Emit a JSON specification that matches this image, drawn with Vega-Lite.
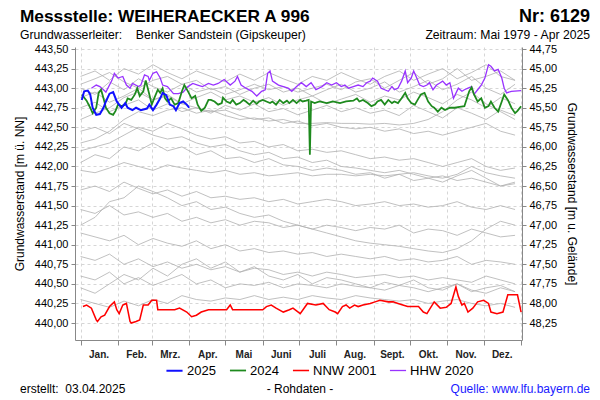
{
  "$schema": "https://vega.github.io/schema/vega-lite/v6.json",
  "autosize": "none",
  "width": 447,
  "height": 293,
  "padding": {"left": 75, "top": 47, "right": 78, "bottom": 60},
  "background": "white",
  "config": {
    "font": "Liberation Sans",
    "view": {"stroke": null}
  },
  "datasets": {
    "grey": [
      {"s":"g1","d":0,"v":443.15},{"s":"g1","d":12,"v":443.22},{"s":"g1","d":24,"v":443.1},{"s":"g1","d":36,"v":443.25},{"s":"g1","d":48,"v":443.18},{"s":"g1","d":60,"v":443.3},{"s":"g1","d":72,"v":443.2},{"s":"g1","d":84,"v":443.12},{"s":"g1","d":96,"v":443.22},{"s":"g1","d":108,"v":443.15},{"s":"g1","d":120,"v":443.08},{"s":"g1","d":132,"v":443.18},{"s":"g1","d":144,"v":443.1},{"s":"g1","d":156,"v":443.2},{"s":"g1","d":168,"v":443.12},{"s":"g1","d":180,"v":443.05},{"s":"g1","d":192,"v":443.15},{"s":"g1","d":204,"v":443.1},{"s":"g1","d":216,"v":443.2},{"s":"g1","d":228,"v":443.12},{"s":"g1","d":240,"v":443.05},{"s":"g1","d":252,"v":443.15},{"s":"g1","d":264,"v":443.22},{"s":"g1","d":276,"v":443.1},{"s":"g1","d":288,"v":443.18},{"s":"g1","d":300,"v":443.25},{"s":"g1","d":312,"v":443.12},{"s":"g1","d":324,"v":443.2},{"s":"g1","d":336,"v":443.3},{"s":"g1","d":348,"v":443.15},{"s":"g1","d":360,"v":443.1},
      {"s":"g2","d":0,"v":443.0},{"s":"g2","d":12,"v":442.92},{"s":"g2","d":24,"v":443.08},{"s":"g2","d":36,"v":442.98},{"s":"g2","d":48,"v":443.12},{"s":"g2","d":60,"v":443.02},{"s":"g2","d":72,"v":442.95},{"s":"g2","d":84,"v":443.05},{"s":"g2","d":96,"v":443.1},{"s":"g2","d":108,"v":442.98},{"s":"g2","d":120,"v":443.02},{"s":"g2","d":132,"v":442.92},{"s":"g2","d":144,"v":443.0},{"s":"g2","d":156,"v":443.05},{"s":"g2","d":168,"v":442.95},{"s":"g2","d":180,"v":443.0},{"s":"g2","d":192,"v":442.9},{"s":"g2","d":204,"v":442.98},{"s":"g2","d":216,"v":443.05},{"s":"g2","d":228,"v":442.95},{"s":"g2","d":240,"v":443.0},{"s":"g2","d":252,"v":443.08},{"s":"g2","d":264,"v":442.95},{"s":"g2","d":276,"v":443.02},{"s":"g2","d":288,"v":443.1},{"s":"g2","d":300,"v":442.98},{"s":"g2","d":312,"v":443.05},{"s":"g2","d":324,"v":443.15},{"s":"g2","d":336,"v":443.0},{"s":"g2","d":348,"v":442.92},{"s":"g2","d":360,"v":443.05},
      {"s":"g3","d":0,"v":442.88},{"s":"g3","d":12,"v":442.95},{"s":"g3","d":24,"v":442.82},{"s":"g3","d":36,"v":442.9},{"s":"g3","d":48,"v":443.0},{"s":"g3","d":60,"v":442.85},{"s":"g3","d":72,"v":442.92},{"s":"g3","d":84,"v":442.8},{"s":"g3","d":96,"v":442.88},{"s":"g3","d":108,"v":442.95},{"s":"g3","d":120,"v":442.85},{"s":"g3","d":132,"v":442.9},{"s":"g3","d":144,"v":442.82},{"s":"g3","d":156,"v":442.88},{"s":"g3","d":168,"v":442.78},{"s":"g3","d":180,"v":442.85},{"s":"g3","d":192,"v":442.9},{"s":"g3","d":204,"v":442.8},{"s":"g3","d":216,"v":442.86},{"s":"g3","d":228,"v":442.92},{"s":"g3","d":240,"v":442.82},{"s":"g3","d":252,"v":442.9},{"s":"g3","d":264,"v":442.85},{"s":"g3","d":276,"v":442.95},{"s":"g3","d":288,"v":442.88},{"s":"g3","d":300,"v":442.8},{"s":"g3","d":312,"v":442.92},{"s":"g3","d":324,"v":442.85},{"s":"g3","d":336,"v":442.75},{"s":"g3","d":348,"v":442.88},{"s":"g3","d":360,"v":442.8},
      {"s":"g4","d":0,"v":442.75},{"s":"g4","d":12,"v":442.82},{"s":"g4","d":24,"v":442.7},{"s":"g4","d":36,"v":442.78},{"s":"g4","d":48,"v":442.85},{"s":"g4","d":60,"v":442.72},{"s":"g4","d":72,"v":442.8},{"s":"g4","d":84,"v":442.7},{"s":"g4","d":96,"v":442.75},{"s":"g4","d":108,"v":442.68},{"s":"g4","d":120,"v":442.78},{"s":"g4","d":132,"v":442.72},{"s":"g4","d":144,"v":442.8},{"s":"g4","d":156,"v":442.7},{"s":"g4","d":168,"v":442.74},{"s":"g4","d":180,"v":442.66},{"s":"g4","d":192,"v":442.72},{"s":"g4","d":204,"v":442.78},{"s":"g4","d":216,"v":442.7},{"s":"g4","d":228,"v":442.75},{"s":"g4","d":240,"v":442.68},{"s":"g4","d":252,"v":442.72},{"s":"g4","d":264,"v":442.65},{"s":"g4","d":276,"v":442.78},{"s":"g4","d":288,"v":442.7},{"s":"g4","d":300,"v":442.62},{"s":"g4","d":312,"v":442.75},{"s":"g4","d":324,"v":442.68},{"s":"g4","d":336,"v":442.6},{"s":"g4","d":348,"v":442.72},{"s":"g4","d":360,"v":442.65},
      {"s":"g5","d":0,"v":442.6},{"s":"g5","d":12,"v":442.68},{"s":"g5","d":24,"v":442.75},{"s":"g5","d":36,"v":442.88},{"s":"g5","d":48,"v":442.95},{"s":"g5","d":60,"v":442.85},{"s":"g5","d":72,"v":442.9},{"s":"g5","d":84,"v":442.8},{"s":"g5","d":96,"v":442.75},{"s":"g5","d":108,"v":442.7},{"s":"g5","d":120,"v":442.72},{"s":"g5","d":132,"v":442.65},{"s":"g5","d":144,"v":442.6},{"s":"g5","d":156,"v":442.62},{"s":"g5","d":168,"v":442.55},{"s":"g5","d":180,"v":442.58},{"s":"g5","d":192,"v":442.52},{"s":"g5","d":204,"v":442.55},{"s":"g5","d":216,"v":442.5},{"s":"g5","d":228,"v":442.48},{"s":"g5","d":240,"v":442.5},{"s":"g5","d":252,"v":442.45},{"s":"g5","d":264,"v":442.48},{"s":"g5","d":276,"v":442.42},{"s":"g5","d":288,"v":442.45},{"s":"g5","d":300,"v":442.4},{"s":"g5","d":312,"v":442.45},{"s":"g5","d":324,"v":442.5},{"s":"g5","d":336,"v":442.55},{"s":"g5","d":348,"v":442.45},{"s":"g5","d":360,"v":442.4},
      {"s":"g6","d":0,"v":442.45},{"s":"g6","d":12,"v":442.5},{"s":"g6","d":24,"v":442.42},{"s":"g6","d":36,"v":442.55},{"s":"g6","d":48,"v":442.48},{"s":"g6","d":60,"v":442.4},{"s":"g6","d":72,"v":442.35},{"s":"g6","d":84,"v":442.38},{"s":"g6","d":96,"v":442.3},{"s":"g6","d":108,"v":442.25},{"s":"g6","d":120,"v":442.28},{"s":"g6","d":132,"v":442.2},{"s":"g6","d":144,"v":442.15},{"s":"g6","d":156,"v":442.18},{"s":"g6","d":168,"v":442.1},{"s":"g6","d":180,"v":442.12},{"s":"g6","d":192,"v":442.05},{"s":"g6","d":204,"v":442.08},{"s":"g6","d":216,"v":442.0},{"s":"g6","d":228,"v":441.98},{"s":"g6","d":240,"v":441.95},{"s":"g6","d":252,"v":441.92},{"s":"g6","d":264,"v":441.95},{"s":"g6","d":276,"v":441.9},{"s":"g6","d":288,"v":441.85},{"s":"g6","d":300,"v":441.88},{"s":"g6","d":312,"v":441.82},{"s":"g6","d":324,"v":441.85},{"s":"g6","d":336,"v":441.8},{"s":"g6","d":348,"v":441.75},{"s":"g6","d":360,"v":441.78},
      {"s":"g7","d":0,"v":442.2},{"s":"g7","d":12,"v":442.25},{"s":"g7","d":24,"v":442.3},{"s":"g7","d":36,"v":442.4},{"s":"g7","d":48,"v":442.5},{"s":"g7","d":60,"v":442.45},{"s":"g7","d":72,"v":442.55},{"s":"g7","d":84,"v":442.48},{"s":"g7","d":96,"v":442.4},{"s":"g7","d":108,"v":442.35},{"s":"g7","d":120,"v":442.38},{"s":"g7","d":132,"v":442.3},{"s":"g7","d":144,"v":442.32},{"s":"g7","d":156,"v":442.25},{"s":"g7","d":168,"v":442.28},{"s":"g7","d":180,"v":442.2},{"s":"g7","d":192,"v":442.22},{"s":"g7","d":204,"v":442.18},{"s":"g7","d":216,"v":442.2},{"s":"g7","d":228,"v":442.15},{"s":"g7","d":240,"v":442.1},{"s":"g7","d":252,"v":442.12},{"s":"g7","d":264,"v":442.08},{"s":"g7","d":276,"v":442.1},{"s":"g7","d":288,"v":442.05},{"s":"g7","d":300,"v":442.0},{"s":"g7","d":312,"v":442.05},{"s":"g7","d":324,"v":442.1},{"s":"g7","d":336,"v":442.0},{"s":"g7","d":348,"v":441.95},{"s":"g7","d":360,"v":441.98},
      {"s":"g8","d":0,"v":441.95},{"s":"g8","d":12,"v":441.92},{"s":"g8","d":24,"v":441.98},{"s":"g8","d":36,"v":442.05},{"s":"g8","d":48,"v":442.0},{"s":"g8","d":60,"v":441.95},{"s":"g8","d":72,"v":442.02},{"s":"g8","d":84,"v":441.98},{"s":"g8","d":96,"v":441.95},{"s":"g8","d":108,"v":441.92},{"s":"g8","d":120,"v":441.95},{"s":"g8","d":132,"v":441.9},{"s":"g8","d":144,"v":441.92},{"s":"g8","d":156,"v":441.88},{"s":"g8","d":168,"v":441.9},{"s":"g8","d":180,"v":441.92},{"s":"g8","d":192,"v":441.88},{"s":"g8","d":204,"v":441.9},{"s":"g8","d":216,"v":441.9},{"s":"g8","d":228,"v":441.88},{"s":"g8","d":240,"v":441.9},{"s":"g8","d":252,"v":441.88},{"s":"g8","d":264,"v":441.9},{"s":"g8","d":276,"v":441.92},{"s":"g8","d":288,"v":441.88},{"s":"g8","d":300,"v":441.85},{"s":"g8","d":312,"v":441.9},{"s":"g8","d":324,"v":442.0},{"s":"g8","d":336,"v":441.92},{"s":"g8","d":348,"v":441.88},{"s":"g8","d":360,"v":441.85},
      {"s":"g9","d":0,"v":441.7},{"s":"g9","d":12,"v":441.75},{"s":"g9","d":24,"v":441.68},{"s":"g9","d":36,"v":441.8},{"s":"g9","d":48,"v":441.72},{"s":"g9","d":60,"v":441.65},{"s":"g9","d":72,"v":441.7},{"s":"g9","d":84,"v":441.62},{"s":"g9","d":96,"v":441.68},{"s":"g9","d":108,"v":441.6},{"s":"g9","d":120,"v":441.62},{"s":"g9","d":132,"v":441.58},{"s":"g9","d":144,"v":441.6},{"s":"g9","d":156,"v":441.55},{"s":"g9","d":168,"v":441.58},{"s":"g9","d":180,"v":441.52},{"s":"g9","d":192,"v":441.55},{"s":"g9","d":204,"v":441.58},{"s":"g9","d":216,"v":441.55},{"s":"g9","d":228,"v":441.5},{"s":"g9","d":240,"v":441.52},{"s":"g9","d":252,"v":441.55},{"s":"g9","d":264,"v":441.5},{"s":"g9","d":276,"v":441.52},{"s":"g9","d":288,"v":441.48},{"s":"g9","d":300,"v":441.5},{"s":"g9","d":312,"v":441.55},{"s":"g9","d":324,"v":441.48},{"s":"g9","d":336,"v":441.45},{"s":"g9","d":348,"v":441.5},{"s":"g9","d":360,"v":441.45},
      {"s":"g10","d":0,"v":441.45},{"s":"g10","d":12,"v":441.4},{"s":"g10","d":24,"v":441.5},{"s":"g10","d":36,"v":441.38},{"s":"g10","d":48,"v":441.42},{"s":"g10","d":60,"v":441.35},{"s":"g10","d":72,"v":441.4},{"s":"g10","d":84,"v":441.3},{"s":"g10","d":96,"v":441.35},{"s":"g10","d":108,"v":441.28},{"s":"g10","d":120,"v":441.32},{"s":"g10","d":132,"v":441.25},{"s":"g10","d":144,"v":441.3},{"s":"g10","d":156,"v":441.28},{"s":"g10","d":168,"v":441.22},{"s":"g10","d":180,"v":441.25},{"s":"g10","d":192,"v":441.2},{"s":"g10","d":204,"v":441.25},{"s":"g10","d":216,"v":441.22},{"s":"g10","d":228,"v":441.18},{"s":"g10","d":240,"v":441.22},{"s":"g10","d":252,"v":441.2},{"s":"g10","d":264,"v":441.25},{"s":"g10","d":276,"v":441.15},{"s":"g10","d":288,"v":441.2},{"s":"g10","d":300,"v":441.18},{"s":"g10","d":312,"v":441.12},{"s":"g10","d":324,"v":441.2},{"s":"g10","d":336,"v":441.15},{"s":"g10","d":348,"v":441.1},{"s":"g10","d":360,"v":441.12},
      {"s":"g11","d":0,"v":441.15},{"s":"g11","d":12,"v":441.1},{"s":"g11","d":24,"v":441.05},{"s":"g11","d":36,"v":441.12},{"s":"g11","d":48,"v":441.0},{"s":"g11","d":60,"v":441.08},{"s":"g11","d":72,"v":441.02},{"s":"g11","d":84,"v":440.98},{"s":"g11","d":96,"v":441.05},{"s":"g11","d":108,"v":440.95},{"s":"g11","d":120,"v":441.0},{"s":"g11","d":132,"v":440.92},{"s":"g11","d":144,"v":440.95},{"s":"g11","d":156,"v":440.9},{"s":"g11","d":168,"v":440.92},{"s":"g11","d":180,"v":440.88},{"s":"g11","d":192,"v":440.9},{"s":"g11","d":204,"v":440.85},{"s":"g11","d":216,"v":440.88},{"s":"g11","d":228,"v":440.85},{"s":"g11","d":240,"v":440.82},{"s":"g11","d":252,"v":440.85},{"s":"g11","d":264,"v":440.8},{"s":"g11","d":276,"v":440.82},{"s":"g11","d":288,"v":440.78},{"s":"g11","d":300,"v":440.8},{"s":"g11","d":312,"v":440.85},{"s":"g11","d":324,"v":440.75},{"s":"g11","d":336,"v":440.8},{"s":"g11","d":348,"v":440.78},{"s":"g11","d":360,"v":440.75},
      {"s":"g12","d":0,"v":440.85},{"s":"g12","d":12,"v":440.8},{"s":"g12","d":24,"v":440.88},{"s":"g12","d":36,"v":440.75},{"s":"g12","d":48,"v":440.82},{"s":"g12","d":60,"v":440.72},{"s":"g12","d":72,"v":440.78},{"s":"g12","d":84,"v":440.7},{"s":"g12","d":96,"v":440.75},{"s":"g12","d":108,"v":440.68},{"s":"g12","d":120,"v":440.72},{"s":"g12","d":132,"v":440.65},{"s":"g12","d":144,"v":440.7},{"s":"g12","d":156,"v":440.68},{"s":"g12","d":168,"v":440.62},{"s":"g12","d":180,"v":440.65},{"s":"g12","d":192,"v":440.6},{"s":"g12","d":204,"v":440.65},{"s":"g12","d":216,"v":440.62},{"s":"g12","d":228,"v":440.58},{"s":"g12","d":240,"v":440.6},{"s":"g12","d":252,"v":440.62},{"s":"g12","d":264,"v":440.58},{"s":"g12","d":276,"v":440.6},{"s":"g12","d":288,"v":440.55},{"s":"g12","d":300,"v":440.58},{"s":"g12","d":312,"v":440.55},{"s":"g12","d":324,"v":440.52},{"s":"g12","d":336,"v":440.6},{"s":"g12","d":348,"v":440.55},{"s":"g12","d":360,"v":440.5},
      {"s":"g13","d":0,"v":440.6},{"s":"g13","d":12,"v":440.55},{"s":"g13","d":24,"v":440.65},{"s":"g13","d":36,"v":440.5},{"s":"g13","d":48,"v":440.58},{"s":"g13","d":60,"v":440.48},{"s":"g13","d":72,"v":440.55},{"s":"g13","d":84,"v":440.62},{"s":"g13","d":96,"v":440.5},{"s":"g13","d":108,"v":440.55},{"s":"g13","d":120,"v":440.45},{"s":"g13","d":132,"v":440.5},{"s":"g13","d":144,"v":440.48},{"s":"g13","d":156,"v":440.52},{"s":"g13","d":168,"v":440.45},{"s":"g13","d":180,"v":440.5},{"s":"g13","d":192,"v":440.48},{"s":"g13","d":204,"v":440.45},{"s":"g13","d":216,"v":440.5},{"s":"g13","d":228,"v":440.47},{"s":"g13","d":240,"v":440.45},{"s":"g13","d":252,"v":440.42},{"s":"g13","d":264,"v":440.48},{"s":"g13","d":276,"v":440.45},{"s":"g13","d":288,"v":440.4},{"s":"g13","d":300,"v":440.45},{"s":"g13","d":312,"v":440.5},{"s":"g13","d":324,"v":440.42},{"s":"g13","d":336,"v":440.38},{"s":"g13","d":348,"v":440.45},{"s":"g13","d":360,"v":440.4},
      {"s":"g14","d":0,"v":440.3},{"s":"g14","d":12,"v":440.25},{"s":"g14","d":24,"v":440.2},{"s":"g14","d":36,"v":440.28},{"s":"g14","d":48,"v":440.22},{"s":"g14","d":60,"v":440.3},{"s":"g14","d":72,"v":440.25},{"s":"g14","d":84,"v":440.35},{"s":"g14","d":96,"v":440.3},{"s":"g14","d":108,"v":440.28},{"s":"g14","d":120,"v":440.32},{"s":"g14","d":132,"v":440.3},{"s":"g14","d":144,"v":440.35},{"s":"g14","d":156,"v":440.3},{"s":"g14","d":168,"v":440.33},{"s":"g14","d":180,"v":440.3},{"s":"g14","d":192,"v":440.35},{"s":"g14","d":204,"v":440.32},{"s":"g14","d":216,"v":440.3},{"s":"g14","d":228,"v":440.35},{"s":"g14","d":240,"v":440.32},{"s":"g14","d":252,"v":440.3},{"s":"g14","d":264,"v":440.28},{"s":"g14","d":276,"v":440.3},{"s":"g14","d":288,"v":440.25},{"s":"g14","d":300,"v":440.28},{"s":"g14","d":312,"v":440.3},{"s":"g14","d":324,"v":440.25},{"s":"g14","d":336,"v":440.22},{"s":"g14","d":348,"v":440.25},{"s":"g14","d":360,"v":440.2},
      {"s":"g15","d":0,"v":440.45},{"s":"g15","d":12,"v":440.38},{"s":"g15","d":24,"v":440.5},{"s":"g15","d":36,"v":440.62},{"s":"g15","d":48,"v":440.55},{"s":"g15","d":60,"v":440.7},{"s":"g15","d":72,"v":440.6},{"s":"g15","d":84,"v":440.75},{"s":"g15","d":96,"v":440.82},{"s":"g15","d":108,"v":440.7},{"s":"g15","d":120,"v":440.78},{"s":"g15","d":132,"v":440.65},{"s":"g15","d":144,"v":440.72},{"s":"g15","d":156,"v":440.6},{"s":"g15","d":168,"v":440.55},{"s":"g15","d":180,"v":440.62},{"s":"g15","d":192,"v":440.5},{"s":"g15","d":204,"v":440.58},{"s":"g15","d":216,"v":440.55},{"s":"g15","d":228,"v":440.5},{"s":"g15","d":240,"v":440.45},{"s":"g15","d":252,"v":440.52},{"s":"g15","d":264,"v":440.48},{"s":"g15","d":276,"v":440.55},{"s":"g15","d":288,"v":440.45},{"s":"g15","d":300,"v":440.42},{"s":"g15","d":312,"v":440.5},{"s":"g15","d":324,"v":440.4},{"s":"g15","d":336,"v":440.45},{"s":"g15","d":348,"v":440.48},{"s":"g15","d":360,"v":440.4},
      {"s":"g16","d":0,"v":442.3},{"s":"g16","d":12,"v":442.35},{"s":"g16","d":24,"v":442.45},{"s":"g16","d":36,"v":442.6},{"s":"g16","d":48,"v":442.7},{"s":"g16","d":60,"v":442.65},{"s":"g16","d":72,"v":442.72},{"s":"g16","d":84,"v":442.75},{"s":"g16","d":96,"v":442.68},{"s":"g16","d":108,"v":442.72},{"s":"g16","d":120,"v":442.65},{"s":"g16","d":132,"v":442.6},{"s":"g16","d":144,"v":442.62},{"s":"g16","d":156,"v":442.58},{"s":"g16","d":168,"v":442.6},{"s":"g16","d":180,"v":442.55},{"s":"g16","d":192,"v":442.55},{"s":"g16","d":204,"v":442.56},{"s":"g16","d":216,"v":442.55},{"s":"g16","d":228,"v":442.55},{"s":"g16","d":240,"v":442.54},{"s":"g16","d":252,"v":442.55},{"s":"g16","d":264,"v":442.53},{"s":"g16","d":276,"v":442.55},{"s":"g16","d":288,"v":442.6},{"s":"g16","d":300,"v":442.7},{"s":"g16","d":312,"v":442.85},{"s":"g16","d":324,"v":442.95},{"s":"g16","d":336,"v":442.8},{"s":"g16","d":348,"v":442.7},{"s":"g16","d":360,"v":442.6},
      {"s":"g17","d":0,"v":443.05},{"s":"g17","d":12,"v":443.12},{"s":"g17","d":24,"v":443.2},{"s":"g17","d":36,"v":443.08},{"s":"g17","d":48,"v":443.0},{"s":"g17","d":60,"v":443.1},{"s":"g17","d":72,"v":443.15},{"s":"g17","d":84,"v":443.05},{"s":"g17","d":96,"v":442.95},{"s":"g17","d":108,"v":443.0},{"s":"g17","d":120,"v":442.92},{"s":"g17","d":132,"v":442.98},{"s":"g17","d":144,"v":443.05},{"s":"g17","d":156,"v":442.98},{"s":"g17","d":168,"v":443.02},{"s":"g17","d":180,"v":442.95},{"s":"g17","d":192,"v":443.0},{"s":"g17","d":204,"v":443.05},{"s":"g17","d":216,"v":442.98},{"s":"g17","d":228,"v":443.08},{"s":"g17","d":240,"v":443.12},{"s":"g17","d":252,"v":443.0},{"s":"g17","d":264,"v":443.1},{"s":"g17","d":276,"v":443.2},{"s":"g17","d":288,"v":443.05},{"s":"g17","d":300,"v":443.12},{"s":"g17","d":312,"v":443.25},{"s":"g17","d":324,"v":443.1},{"s":"g17","d":336,"v":443.15},{"s":"g17","d":348,"v":443.22},{"s":"g17","d":360,"v":443.1},
      {"s":"g18","d":0,"v":441.25},{"s":"g18","d":12,"v":441.35},{"s":"g18","d":24,"v":441.55},{"s":"g18","d":36,"v":441.6},{"s":"g18","d":48,"v":441.75},{"s":"g18","d":60,"v":441.68},{"s":"g18","d":72,"v":441.6},{"s":"g18","d":84,"v":441.5},{"s":"g18","d":96,"v":441.55},{"s":"g18","d":108,"v":441.45},{"s":"g18","d":120,"v":441.48},{"s":"g18","d":132,"v":441.4},{"s":"g18","d":144,"v":441.35},{"s":"g18","d":156,"v":441.38},{"s":"g18","d":168,"v":441.3},{"s":"g18","d":180,"v":441.25},{"s":"g18","d":192,"v":441.2},{"s":"g18","d":204,"v":441.15},{"s":"g18","d":216,"v":441.1},{"s":"g18","d":228,"v":441.05},{"s":"g18","d":240,"v":441.02},{"s":"g18","d":252,"v":441.0},{"s":"g18","d":264,"v":440.98},{"s":"g18","d":276,"v":440.95},{"s":"g18","d":288,"v":440.92},{"s":"g18","d":300,"v":440.9},{"s":"g18","d":312,"v":440.95},{"s":"g18","d":324,"v":441.05},{"s":"g18","d":336,"v":441.2},{"s":"g18","d":348,"v":441.3},{"s":"g18","d":360,"v":441.25},
      {"s":"g19","d":0,"v":442.05},{"s":"g19","d":12,"v":442.15},{"s":"g19","d":24,"v":442.1},{"s":"g19","d":36,"v":442.25},{"s":"g19","d":48,"v":442.2},{"s":"g19","d":60,"v":442.3},{"s":"g19","d":72,"v":442.2},{"s":"g19","d":84,"v":442.25},{"s":"g19","d":96,"v":442.15},{"s":"g19","d":108,"v":442.2},{"s":"g19","d":120,"v":442.1},{"s":"g19","d":132,"v":442.12},{"s":"g19","d":144,"v":442.05},{"s":"g19","d":156,"v":442.1},{"s":"g19","d":168,"v":442.02},{"s":"g19","d":180,"v":442.0},{"s":"g19","d":192,"v":441.95},{"s":"g19","d":204,"v":441.98},{"s":"g19","d":216,"v":441.95},{"s":"g19","d":228,"v":441.9},{"s":"g19","d":240,"v":441.92},{"s":"g19","d":252,"v":441.85},{"s":"g19","d":264,"v":441.9},{"s":"g19","d":276,"v":441.82},{"s":"g19","d":288,"v":441.85},{"s":"g19","d":300,"v":441.8},{"s":"g19","d":312,"v":441.88},{"s":"g19","d":324,"v":441.95},{"s":"g19","d":336,"v":441.85},{"s":"g19","d":348,"v":441.75},{"s":"g19","d":360,"v":441.8}
    ],
    "col": [
      {"s":"HHW 2020","d":9,"v":443.0},{"s":"HHW 2020","d":13,"v":443.04},{"s":"HHW 2020","d":16,"v":443.02},{"s":"HHW 2020","d":19,"v":442.98},{"s":"HHW 2020","d":21,"v":442.95},{"s":"HHW 2020","d":26,"v":443.1},{"s":"HHW 2020","d":28,"v":443.19},{"s":"HHW 2020","d":31,"v":443.13},{"s":"HHW 2020","d":35,"v":443.15},{"s":"HHW 2020","d":38,"v":443.04},{"s":"HHW 2020","d":41,"v":443.0},{"s":"HHW 2020","d":43,"v":443.06},{"s":"HHW 2020","d":48,"v":443.02},{"s":"HHW 2020","d":50,"v":443.04},{"s":"HHW 2020","d":53,"v":443.17},{"s":"HHW 2020","d":56,"v":443.15},{"s":"HHW 2020","d":57,"v":443.1},{"s":"HHW 2020","d":60,"v":443.19},{"s":"HHW 2020","d":63,"v":443.21},{"s":"HHW 2020","d":66,"v":443.13},{"s":"HHW 2020","d":68,"v":443.04},{"s":"HHW 2020","d":72,"v":443.02},{"s":"HHW 2020","d":77,"v":442.93},{"s":"HHW 2020","d":81,"v":442.93},{"s":"HHW 2020","d":85,"v":442.95},{"s":"HHW 2020","d":89,"v":443.02},{"s":"HHW 2020","d":93,"v":443.06},{"s":"HHW 2020","d":97,"v":443.04},{"s":"HHW 2020","d":101,"v":443.02},{"s":"HHW 2020","d":106,"v":443.06},{"s":"HHW 2020","d":110,"v":443.04},{"s":"HHW 2020","d":114,"v":443.06},
      {"s":"HHW 2020","d":119,"v":443.11},{"s":"HHW 2020","d":124,"v":443.04},{"s":"HHW 2020","d":128,"v":443.09},{"s":"HHW 2020","d":130,"v":443.15},{"s":"HHW 2020","d":133,"v":443.04},{"s":"HHW 2020","d":137,"v":443.0},{"s":"HHW 2020","d":142,"v":442.96},{"s":"HHW 2020","d":146,"v":442.9},{"s":"HHW 2020","d":150,"v":442.96},{"s":"HHW 2020","d":153,"v":442.98},{"s":"HHW 2020","d":155,"v":443.19},{"s":"HHW 2020","d":157,"v":443.22},{"s":"HHW 2020","d":159,"v":443.09},{"s":"HHW 2020","d":164,"v":443.04},{"s":"HHW 2020","d":168,"v":443.02},{"s":"HHW 2020","d":172,"v":443.0},{"s":"HHW 2020","d":175,"v":442.96},{"s":"HHW 2020","d":179,"v":443.02},{"s":"HHW 2020","d":183,"v":443.07},{"s":"HHW 2020","d":187,"v":443.02},{"s":"HHW 2020","d":191,"v":443.07},{"s":"HHW 2020","d":195,"v":442.98},{"s":"HHW 2020","d":200,"v":443.02},{"s":"HHW 2020","d":204,"v":443.07},{"s":"HHW 2020","d":208,"v":443.04},{"s":"HHW 2020","d":212,"v":443.07},{"s":"HHW 2020","d":216,"v":443.02},{"s":"HHW 2020","d":219,"v":443.04},{"s":"HHW 2020","d":222,"v":443.0},{"s":"HHW 2020","d":226,"v":443.02},{"s":"HHW 2020","d":230,"v":443.04},{"s":"HHW 2020","d":234,"v":443.02},{"s":"HHW 2020","d":237,"v":443.07},{"s":"HHW 2020","d":240,"v":443.09},
      {"s":"HHW 2020","d":242,"v":443.13},{"s":"HHW 2020","d":246,"v":443.09},{"s":"HHW 2020","d":249,"v":443.0},{"s":"HHW 2020","d":252,"v":442.98},{"s":"HHW 2020","d":255,"v":442.96},{"s":"HHW 2020","d":258,"v":443.02},{"s":"HHW 2020","d":260,"v":442.98},{"s":"HHW 2020","d":263,"v":443.0},{"s":"HHW 2020","d":266,"v":443.09},{"s":"HHW 2020","d":269,"v":443.22},{"s":"HHW 2020","d":271,"v":443.07},{"s":"HHW 2020","d":274,"v":443.13},{"s":"HHW 2020","d":276,"v":443.22},{"s":"HHW 2020","d":278,"v":443.15},{"s":"HHW 2020","d":281,"v":443.04},{"s":"HHW 2020","d":284,"v":443.02},{"s":"HHW 2020","d":287,"v":443.04},{"s":"HHW 2020","d":289,"v":443.07},{"s":"HHW 2020","d":292,"v":442.98},{"s":"HHW 2020","d":295,"v":443.04},{"s":"HHW 2020","d":298,"v":443.07},{"s":"HHW 2020","d":300,"v":443.09},{"s":"HHW 2020","d":303,"v":443.04},{"s":"HHW 2020","d":306,"v":443.07},{"s":"HHW 2020","d":309,"v":442.87},{"s":"HHW 2020","d":313,"v":443.0},{"s":"HHW 2020","d":316,"v":442.96},{"s":"HHW 2020","d":318,"v":442.98},{"s":"HHW 2020","d":321,"v":443.0},{"s":"HHW 2020","d":324,"v":443.02},{"s":"HHW 2020","d":326,"v":442.92},{"s":"HHW 2020","d":329,"v":442.98},{"s":"HHW 2020","d":332,"v":443.04},{"s":"HHW 2020","d":335,"v":443.13},{"s":"HHW 2020","d":338,"v":443.3},{"s":"HHW 2020","d":340,"v":443.28},{"s":"HHW 2020","d":343,"v":443.22},{"s":"HHW 2020","d":346,"v":443.24},{"s":"HHW 2020","d":349,"v":443.13},{"s":"HHW 2020","d":351,"v":443.0},{"s":"HHW 2020","d":353,"v":442.94},{"s":"HHW 2020","d":357,"v":442.96},{"s":"HHW 2020","d":365,"v":442.97},
      {"s":"NNW 2001","d":2,"v":440.21},{"s":"NNW 2001","d":5,"v":440.23},{"s":"NNW 2001","d":9,"v":440.19},{"s":"NNW 2001","d":13,"v":440.04},{"s":"NNW 2001","d":14,"v":440.02},{"s":"NNW 2001","d":17,"v":440.08},{"s":"NNW 2001","d":20,"v":440.1},{"s":"NNW 2001","d":24,"v":440.21},{"s":"NNW 2001","d":28,"v":440.27},{"s":"NNW 2001","d":30,"v":440.17},{"s":"NNW 2001","d":32,"v":440.12},{"s":"NNW 2001","d":35,"v":440.23},{"s":"NNW 2001","d":38,"v":440.25},{"s":"NNW 2001","d":41,"v":440.02},{"s":"NNW 2001","d":42,"v":440.0},{"s":"NNW 2001","d":46,"v":440.02},{"s":"NNW 2001","d":49,"v":440.04},{"s":"NNW 2001","d":52,"v":440.23},{"s":"NNW 2001","d":56,"v":440.23},{"s":"NNW 2001","d":59,"v":440.29},{"s":"NNW 2001","d":63,"v":440.29},{"s":"NNW 2001","d":64,"v":440.17},{"s":"NNW 2001","d":68,"v":440.17},{"s":"NNW 2001","d":78,"v":440.17},{"s":"NNW 2001","d":82,"v":440.19},{"s":"NNW 2001","d":88,"v":440.14},{"s":"NNW 2001","d":92,"v":440.08},{"s":"NNW 2001","d":96,"v":440.1},{"s":"NNW 2001","d":100,"v":440.14},{"s":"NNW 2001","d":106,"v":440.17},{"s":"NNW 2001","d":113,"v":440.17},{"s":"NNW 2001","d":121,"v":440.17},{"s":"NNW 2001","d":124,"v":440.23},{"s":"NNW 2001","d":126,"v":440.17},{"s":"NNW 2001","d":135,"v":440.17},{"s":"NNW 2001","d":143,"v":440.17},{"s":"NNW 2001","d":151,"v":440.17},{"s":"NNW 2001","d":154,"v":440.21},{"s":"NNW 2001","d":158,"v":440.23},{"s":"NNW 2001","d":162,"v":440.19},{"s":"NNW 2001","d":168,"v":440.14},{"s":"NNW 2001","d":173,"v":440.17},{"s":"NNW 2001","d":176,"v":440.19},{"s":"NNW 2001","d":182,"v":440.12},{"s":"NNW 2001","d":188,"v":440.25},{"s":"NNW 2001","d":195,"v":440.23},{"s":"NNW 2001","d":201,"v":440.25},{"s":"NNW 2001","d":206,"v":440.17},{"s":"NNW 2001","d":211,"v":440.14},{"s":"NNW 2001","d":213,"v":440.12},{"s":"NNW 2001","d":217,"v":440.21},{"s":"NNW 2001","d":220,"v":440.23},{"s":"NNW 2001","d":223,"v":440.19},{"s":"NNW 2001","d":227,"v":440.23},{"s":"NNW 2001","d":230,"v":440.21},{"s":"NNW 2001","d":234,"v":440.23},{"s":"NNW 2001","d":240,"v":440.25},{"s":"NNW 2001","d":244,"v":440.27},{"s":"NNW 2001","d":248,"v":440.29},{"s":"NNW 2001","d":255,"v":440.27},{"s":"NNW 2001","d":259,"v":440.27},{"s":"NNW 2001","d":263,"v":440.25},{"s":"NNW 2001","d":267,"v":440.23},{"s":"NNW 2001","d":271,"v":440.21},{"s":"NNW 2001","d":280,"v":440.21},{"s":"NNW 2001","d":284,"v":440.14},{"s":"NNW 2001","d":287,"v":440.12},{"s":"NNW 2001","d":289,"v":440.17},{"s":"NNW 2001","d":293,"v":440.27},{"s":"NNW 2001","d":298,"v":440.19},{"s":"NNW 2001","d":303,"v":440.2},{"s":"NNW 2001","d":307,"v":440.25},{"s":"NNW 2001","d":311,"v":440.46},{"s":"NNW 2001","d":313,"v":440.34},{"s":"NNW 2001","d":316,"v":440.23},{"s":"NNW 2001","d":318,"v":440.25},{"s":"NNW 2001","d":321,"v":440.14},{"s":"NNW 2001","d":325,"v":440.19},{"s":"NNW 2001","d":329,"v":440.27},{"s":"NNW 2001","d":334,"v":440.29},{"s":"NNW 2001","d":338,"v":440.25},{"s":"NNW 2001","d":340,"v":440.14},{"s":"NNW 2001","d":345,"v":440.12},{"s":"NNW 2001","d":350,"v":440.14},{"s":"NNW 2001","d":354,"v":440.36},{"s":"NNW 2001","d":362,"v":440.36},{"s":"NNW 2001","d":365,"v":440.14},
      {"s":"2024","d":1,"v":442.92},{"s":"2024","d":5,"v":442.84},{"s":"2024","d":8,"v":442.75},{"s":"2024","d":10,"v":442.68},{"s":"2024","d":13,"v":442.75},{"s":"2024","d":15,"v":442.94},{"s":"2024","d":17,"v":442.98},{"s":"2024","d":19,"v":442.87},{"s":"2024","d":21,"v":442.75},{"s":"2024","d":24,"v":442.68},{"s":"2024","d":27,"v":442.66},{"s":"2024","d":29,"v":442.71},{"s":"2024","d":31,"v":442.79},{"s":"2024","d":34,"v":442.77},{"s":"2024","d":37,"v":442.79},{"s":"2024","d":39,"v":442.87},{"s":"2024","d":42,"v":442.85},{"s":"2024","d":45,"v":442.92},{"s":"2024","d":47,"v":443.0},{"s":"2024","d":49,"v":442.9},{"s":"2024","d":52,"v":442.96},{"s":"2024","d":54,"v":443.1},{"s":"2024","d":55,"v":443.04},{"s":"2024","d":57,"v":442.92},{"s":"2024","d":59,"v":442.79},{"s":"2024","d":61,"v":442.87},{"s":"2024","d":64,"v":442.98},{"s":"2024","d":66,"v":442.94},{"s":"2024","d":68,"v":443.0},{"s":"2024","d":70,"v":442.87},{"s":"2024","d":72,"v":442.83},{"s":"2024","d":75,"v":442.87},{"s":"2024","d":78,"v":442.79},{"s":"2024","d":81,"v":442.81},{"s":"2024","d":84,"v":442.96},{"s":"2024","d":86,"v":443.04},{"s":"2024","d":89,"v":442.96},{"s":"2024","d":92,"v":442.87},{"s":"2024","d":95,"v":442.9},{"s":"2024","d":97,"v":442.79},{"s":"2024","d":100,"v":442.71},{"s":"2024","d":103,"v":442.75},{"s":"2024","d":106,"v":442.85},{"s":"2024","d":108,"v":442.85},{"s":"2024","d":111,"v":442.83},{"s":"2024","d":114,"v":442.79},{"s":"2024","d":117,"v":442.81},
      {"s":"2024","d":118,"v":442.88},{"s":"2024","d":121,"v":442.83},{"s":"2024","d":124,"v":442.81},{"s":"2024","d":126,"v":442.85},{"s":"2024","d":129,"v":442.79},{"s":"2024","d":132,"v":442.81},{"s":"2024","d":135,"v":442.85},{"s":"2024","d":137,"v":442.83},{"s":"2024","d":140,"v":442.79},{"s":"2024","d":143,"v":442.84},{"s":"2024","d":146,"v":442.8},{"s":"2024","d":148,"v":442.83},{"s":"2024","d":151,"v":442.85},{"s":"2024","d":154,"v":442.83},{"s":"2024","d":157,"v":442.81},{"s":"2024","d":159,"v":442.83},{"s":"2024","d":162,"v":442.79},{"s":"2024","d":165,"v":442.85},{"s":"2024","d":168,"v":442.81},{"s":"2024","d":171,"v":442.84},{"s":"2024","d":173,"v":442.81},{"s":"2024","d":176,"v":442.85},{"s":"2024","d":179,"v":442.81},{"s":"2024","d":182,"v":442.85},{"s":"2024","d":184,"v":442.83},{"s":"2024","d":187,"v":442.84},{"s":"2024","d":189,"v":442.85},{"s":"2024","d":190,"v":442.15},{"s":"2024","d":191,"v":442.83},{"s":"2024","d":194,"v":442.81},{"s":"2024","d":198,"v":442.83},{"s":"2024","d":204,"v":442.81},{"s":"2024","d":209,"v":442.83},{"s":"2024","d":215,"v":442.81},{"s":"2024","d":220,"v":442.83},{"s":"2024","d":226,"v":442.84},{"s":"2024","d":229,"v":442.87},{"s":"2024","d":231,"v":442.83},{"s":"2024","d":234,"v":442.85},
      {"s":"2024","d":238,"v":442.81},{"s":"2024","d":241,"v":442.77},{"s":"2024","d":244,"v":442.79},{"s":"2024","d":246,"v":442.83},{"s":"2024","d":249,"v":442.85},{"s":"2024","d":252,"v":442.79},{"s":"2024","d":255,"v":442.85},{"s":"2024","d":258,"v":442.81},{"s":"2024","d":260,"v":442.83},{"s":"2024","d":263,"v":442.81},{"s":"2024","d":266,"v":442.87},{"s":"2024","d":269,"v":442.94},{"s":"2024","d":271,"v":442.87},{"s":"2024","d":274,"v":442.81},{"s":"2024","d":277,"v":442.79},{"s":"2024","d":280,"v":442.87},{"s":"2024","d":282,"v":442.92},{"s":"2024","d":285,"v":442.94},{"s":"2024","d":288,"v":442.83},{"s":"2024","d":291,"v":442.77},{"s":"2024","d":293,"v":442.75},{"s":"2024","d":296,"v":442.7},{"s":"2024","d":299,"v":442.75},{"s":"2024","d":302,"v":442.72},{"s":"2024","d":306,"v":442.75},{"s":"2024","d":310,"v":442.75},{"s":"2024","d":314,"v":442.76},{"s":"2024","d":318,"v":442.77},{"s":"2024","d":322,"v":442.96},{"s":"2024","d":324,"v":443.01},{"s":"2024","d":326,"v":442.92},{"s":"2024","d":329,"v":442.83},{"s":"2024","d":332,"v":442.87},{"s":"2024","d":335,"v":442.75},{"s":"2024","d":338,"v":442.77},{"s":"2024","d":340,"v":442.83},{"s":"2024","d":343,"v":442.75},{"s":"2024","d":346,"v":442.7},{"s":"2024","d":349,"v":442.83},{"s":"2024","d":351,"v":442.92},{"s":"2024","d":354,"v":442.85},{"s":"2024","d":357,"v":442.75},{"s":"2024","d":360,"v":442.68},{"s":"2024","d":362,"v":442.71},{"s":"2024","d":365,"v":442.77},
      {"s":"2025","d":1,"v":442.85},{"s":"2025","d":3,"v":442.96},{"s":"2025","d":6,"v":442.97},{"s":"2025","d":8,"v":442.92},{"s":"2025","d":10,"v":442.75},{"s":"2025","d":13,"v":442.66},{"s":"2025","d":16,"v":442.67},{"s":"2025","d":19,"v":442.75},{"s":"2025","d":21,"v":442.83},{"s":"2025","d":24,"v":442.93},{"s":"2025","d":27,"v":442.95},{"s":"2025","d":30,"v":442.83},{"s":"2025","d":34,"v":442.75},{"s":"2025","d":37,"v":442.81},{"s":"2025","d":39,"v":442.75},{"s":"2025","d":43,"v":442.72},{"s":"2025","d":46,"v":442.75},{"s":"2025","d":50,"v":442.72},{"s":"2025","d":55,"v":442.74},{"s":"2025","d":57,"v":442.79},{"s":"2025","d":60,"v":442.72},{"s":"2025","d":63,"v":442.79},{"s":"2025","d":66,"v":442.87},{"s":"2025","d":68,"v":442.94},{"s":"2025","d":71,"v":442.91},{"s":"2025","d":74,"v":442.79},{"s":"2025","d":77,"v":442.77},{"s":"2025","d":79,"v":442.72},{"s":"2025","d":82,"v":442.81},{"s":"2025","d":85,"v":442.83},{"s":"2025","d":88,"v":442.79},{"s":"2025","d":90,"v":442.75}
    ]
  },
  "resolve": {"scale": {"x": "shared", "y": "shared"}, "axis": {"x": "independent", "y": "independent"}},
  "layer": [
    {
      "data": {"name": "grey"},
      "mark": {"type": "line", "color": "#b0b0b0", "strokeWidth": 0.8},
      "encoding": {
        "x": {
          "field": "d", "type": "quantitative",
          "scale": {"domain": [-4.6, 365.75], "nice": false, "zero": false},
          "axis": {
            "orient": "bottom",
            "values": [0,31,59,90,120,151,181,212,243,273,304,334,365],
            "labelExpr": "datum.value < 15 ? 'Jan.' : datum.value < 45 ? 'Feb.' : datum.value < 75 ? 'Mrz.' : datum.value < 105 ? 'Apr.' : datum.value < 135 ? 'Mai' : datum.value < 165 ? 'Juni' : datum.value < 195 ? 'Juli' : datum.value < 225 ? 'Aug.' : datum.value < 255 ? 'Sept.' : datum.value < 290 ? 'Okt.' : datum.value < 320 ? 'Nov.' : datum.value < 350 ? 'Dez.' : ''",
            "labelOffset": 18, "labelAlign": "center", "labelFlush": false, "labelOverlap": false, "labelBound": false,
            "title": null, "grid": true, "gridDash": [3,3], "gridColor": "#d6d6d6",
            "domainColor": "#888888", "tickColor": "#888888", "tickSize": 5, "labelPadding": 4,
            "labelFontSize": 10, "labelFontWeight": "bold", "labelColor": "#222222"
          }
        },
        "y": {
          "field": "v", "type": "quantitative",
          "scale": {"domain": [439.783, 443.526], "nice": false, "zero": false},
          "axis": {
            "orient": "left",
            "values": [440,440.25,440.5,440.75,441,441.25,441.5,441.75,442,442.25,442.5,442.75,443,443.25,443.5],
            "labelExpr": "replace(format(datum.value,'.2f'),'.',',')",
            "title": "Grundwasserstand [m ü. NN]", "titleFontSize": 12, "titleFontWeight": "normal", "titleColor": "#000000", "titlePadding": 8,
            "labelFontSize": 11, "labelColor": "#000000", "grid": true, "gridDash": [3,3], "gridColor": "#d6d6d6",
            "domainColor": "#888888", "tickColor": "#888888", "tickSize": 4, "labelPadding": 3
          }
        },
        "detail": {"field": "s"}
      }
    },
    {
      "data": {"name": "col"},
      "mark": {"type": "line"},
      "encoding": {
        "x": {"field": "d", "type": "quantitative", "axis": null},
        "y": {
          "field": "v", "type": "quantitative",
          "axis": {
            "orient": "right",
            "values": [440,440.25,440.5,440.75,441,441.25,441.5,441.75,442,442.25,442.5,442.75,443,443.25,443.5],
            "labelExpr": "replace(format(488.25-datum.value,'.2f'),'.',',')",
            "title": "Grundwasserstand [m u. Gelände]", "titleFontSize": 12, "titleFontWeight": "normal", "titleColor": "#000000", "titlePadding": 8,
            "labelFontSize": 11, "labelColor": "#000000", "grid": false,
            "domainColor": "#888888", "tickColor": "#888888", "tickSize": 4, "labelPadding": 3
          }
        },
        "color": {
          "field": "s", "type": "nominal",
          "scale": {"domain": ["2025","2024","NNW 2001","HHW 2020"], "range": ["#1010ff","#1e8a1e","#ff0000","#9933ff"]},
          "legend": {
            "orient": "none", "legendX": 90, "legendY": 314, "direction": "horizontal", "title": null,
            "symbolType": "stroke", "symbolStrokeWidth": 2, "symbolSize": 260,
            "labelFontSize": 13, "labelColor": "#000000", "columnPadding": 10, "labelOffset": 3
          }
        },
        "strokeWidth": {
          "field": "s", "type": "nominal",
          "scale": {"domain": ["2025","2024","NNW 2001","HHW 2020"], "range": [2, 1.3, 1.3, 1.3]},
          "legend": null
        }
      }
    },
    {
      "data": {"values": [{}]},
      "mark": {"type": "text", "text": "Messstelle: WEIHERAECKER A 996", "align": "left", "baseline": "alphabetic", "fontSize": 17.3, "fontWeight": "bold", "color": "#000000"},
      "encoding": {
        "x": {"datum": -50.2, "type": "quantitative", "axis": null},
        "y": {"datum": 443.845, "type": "quantitative", "axis": null}
      }
    },
    {
      "data": {"values": [{}]},
      "mark": {"type": "text", "text": "Grundwasserleiter:\u00a0\u00a0\u00a0 Benker Sandstein (Gipskeuper)", "align": "left", "baseline": "alphabetic", "fontSize": 12.2, "color": "#000000"},
      "encoding": {
        "x": {"datum": -50.2, "type": "quantitative", "axis": null},
        "y": {"datum": 443.628, "type": "quantitative", "axis": null}
      }
    },
    {
      "data": {"values": [{}]},
      "mark": {"type": "text", "text": "Nr: 6129", "align": "right", "baseline": "alphabetic", "fontSize": 18, "fontWeight": "bold", "color": "#000000"},
      "encoding": {
        "x": {"datum": 422.1, "type": "quantitative", "axis": null},
        "y": {"datum": 443.845, "type": "quantitative", "axis": null}
      }
    },
    {
      "data": {"values": [{}]},
      "mark": {"type": "text", "text": "Zeitraum: Mai 1979 - Apr 2025", "align": "right", "baseline": "alphabetic", "fontSize": 12.2, "color": "#000000"},
      "encoding": {
        "x": {"datum": 422.1, "type": "quantitative", "axis": null},
        "y": {"datum": 443.628, "type": "quantitative", "axis": null}
      }
    },
    {
      "data": {"values": [{}]},
      "mark": {"type": "text", "text": "erstellt:\u00a0 03.04.2025", "align": "left", "baseline": "alphabetic", "fontSize": 12, "color": "#000000"},
      "encoding": {
        "x": {"datum": -50.2, "type": "quantitative", "axis": null},
        "y": {"datum": 439.106, "type": "quantitative", "axis": null}
      }
    },
    {
      "data": {"values": [{}]},
      "mark": {"type": "text", "text": "- Rohdaten -", "align": "center", "baseline": "alphabetic", "fontSize": 12, "color": "#000000"},
      "encoding": {
        "x": {"datum": 181.8, "type": "quantitative", "axis": null},
        "y": {"datum": 439.106, "type": "quantitative", "axis": null}
      }
    },
    {
      "data": {"values": [{}]},
      "mark": {"type": "text", "text": "Quelle: www.lfu.bayern.de", "align": "right", "baseline": "alphabetic", "fontSize": 12, "color": "#1a1aff"},
      "encoding": {
        "x": {"datum": 422.1, "type": "quantitative", "axis": null},
        "y": {"datum": 439.106, "type": "quantitative", "axis": null}
      }
    }
  ]
}
